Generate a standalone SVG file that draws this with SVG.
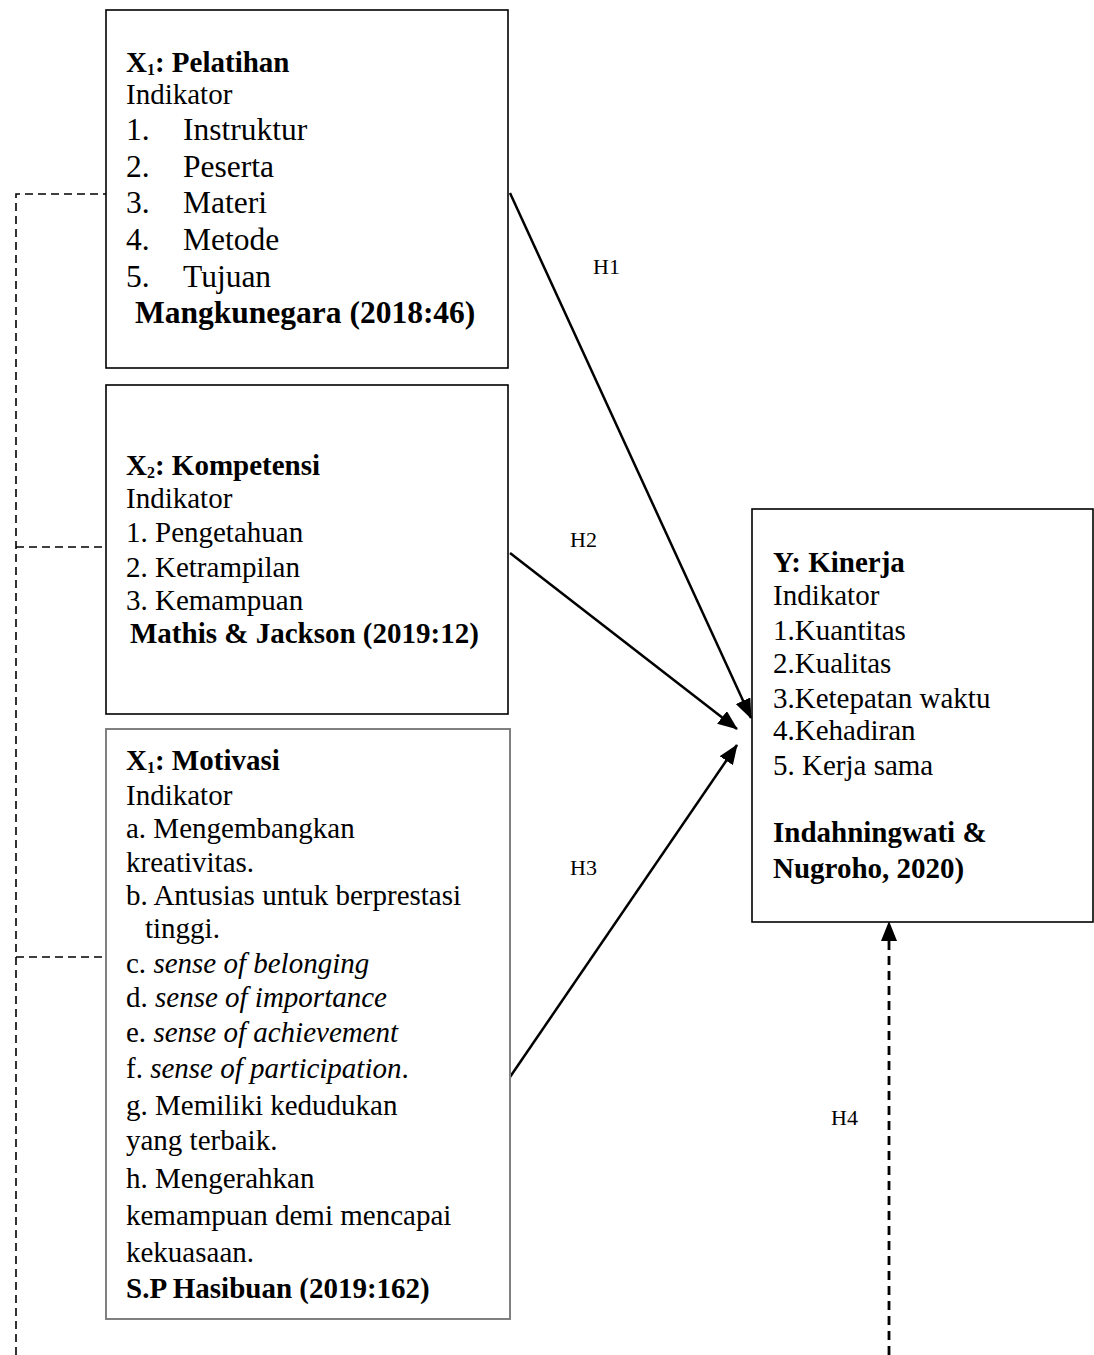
<svg xmlns="http://www.w3.org/2000/svg" width="1094" height="1355" viewBox="0 0 1094 1355">
<style>
text{font-family:"Liberation Serif","Times New Roman",serif;fill:#000}
.t{font-size:29px}
.tl{font-size:31.5px}
.b{font-weight:bold}
.i{font-style:italic}
.sub{font-size:16px}
.lbl{font-size:22px}
.box{fill:#fff;stroke:#000;stroke-width:1.6}
.box3{fill:#fff;stroke:#808080;stroke-width:2}
.arr{stroke:#000;stroke-width:2.5;fill:none}
.dash{stroke:#000;stroke-width:1.6;fill:none;stroke-dasharray:8 5}
.dash4{stroke:#000;stroke-width:2.8;fill:none;stroke-dasharray:9 6}
</style>
<defs>
<marker id="ah" markerWidth="20" markerHeight="16" refX="19" refY="8" orient="auto" markerUnits="userSpaceOnUse">
<path d="M0,0 L20,8 L0,16 Z" fill="#000"/>
</marker>
</defs>
<g id="connectors">
<path class="dash" d="M16,1355 L16,194 L106,194"/>
<path class="dash" d="M16,547 L106,547"/>
<path class="dash" d="M16,957 L106,957"/>
<line class="arr" x1="510" y1="193" x2="751" y2="718" marker-end="url(#ah)"/>
<line class="arr" x1="510" y1="553" x2="737" y2="729" marker-end="url(#ah)"/>
<line class="arr" x1="510" y1="1077" x2="737" y2="745" marker-end="url(#ah)"/>
<line class="dash4" x1="889" y1="1355" x2="889" y2="922" marker-end="url(#ah)"/>
<text class="lbl" x="593" y="274">H1</text>
<text class="lbl" x="570" y="547">H2</text>
<text class="lbl" x="570" y="875">H3</text>
<text class="lbl" x="831" y="1125">H4</text>
</g>
<g id="x1-pelatihan">
<rect class="box" x="106" y="10" width="402" height="358"/>
<text class="t b" x="126" y="72">X<tspan class="sub" dy="3">1</tspan><tspan dy="-3">: Pelatihan</tspan></text>
<text class="t" x="126" y="104">Indikator</text>
<text class="tl" x="126" y="140">1.</text><text class="tl" x="183" y="140">Instruktur</text>
<text class="tl" x="126" y="177">2.</text><text class="tl" x="183" y="177">Peserta</text>
<text class="tl" x="126" y="213">3.</text><text class="tl" x="183" y="213">Materi</text>
<text class="tl" x="126" y="250">4.</text><text class="tl" x="183" y="250">Metode</text>
<text class="tl" x="126" y="287">5.</text><text class="tl" x="183" y="287">Tujuan</text>
<text class="tl b" x="135" y="323">Mangkunegara (2018:46)</text>
</g>
<g id="x2-kompetensi">
<rect class="box" x="106" y="385" width="402" height="329"/>
<text class="t b" x="126" y="475">X<tspan class="sub" dy="3">2</tspan><tspan dy="-3">: Kompetensi</tspan></text>
<text class="t" x="126" y="508">Indikator</text>
<text class="t" x="126" y="542">1. Pengetahuan</text>
<text class="t" x="126" y="577">2. Ketrampilan</text>
<text class="t" x="126" y="610">3. Kemampuan</text>
<text class="t b" x="130" y="643">Mathis &amp; Jackson (2019:12)</text>
</g>
<g id="x3-motivasi">
<rect class="box3" x="106" y="729" width="404" height="590"/>
<text class="t b" x="126" y="770">X<tspan class="sub" dy="3">1</tspan><tspan dy="-3">: Motivasi</tspan></text>
<text class="t" x="126" y="805">Indikator</text>
<text class="t" x="126" y="838">a. Mengembangkan</text>
<text class="t" x="126" y="872">kreativitas.</text>
<text class="t" x="126" y="905">b. Antusias untuk berprestasi</text>
<text class="t" x="145" y="938">tinggi.</text>
<text class="t" x="126" y="973">c. <tspan class="i">sense of belonging</tspan></text>
<text class="t" x="126" y="1007">d. <tspan class="i">sense of importance</tspan></text>
<text class="t" x="126" y="1042">e. <tspan class="i">sense of achievement</tspan></text>
<text class="t" x="126" y="1078">f. <tspan class="i">sense of participation</tspan>.</text>
<text class="t" x="126" y="1115">g. Memiliki kedudukan</text>
<text class="t" x="126" y="1150">yang terbaik.</text>
<text class="t" x="126" y="1188">h. Mengerahkan</text>
<text class="t" x="126" y="1225">kemampuan demi mencapai</text>
<text class="t" x="126" y="1262">kekuasaan.</text>
<text class="t b" x="126" y="1298">S.P Hasibuan (2019:162)</text>
</g>
<g id="y-kinerja">
<rect class="box" x="752" y="509" width="341" height="413"/>
<text class="t b" x="773" y="572">Y: Kinerja</text>
<text class="t" x="773" y="605">Indikator</text>
<text class="t" x="773" y="640">1.Kuantitas</text>
<text class="t" x="773" y="673">2.Kualitas</text>
<text class="t" x="773" y="708">3.Ketepatan waktu</text>
<text class="t" x="773" y="740">4.Kehadiran</text>
<text class="t" x="773" y="775">5. Kerja sama</text>
<text class="t b" x="773" y="842">Indahningwati &amp;</text>
<text class="t b" x="773" y="878">Nugroho, 2020)</text>
</g>
</svg>
